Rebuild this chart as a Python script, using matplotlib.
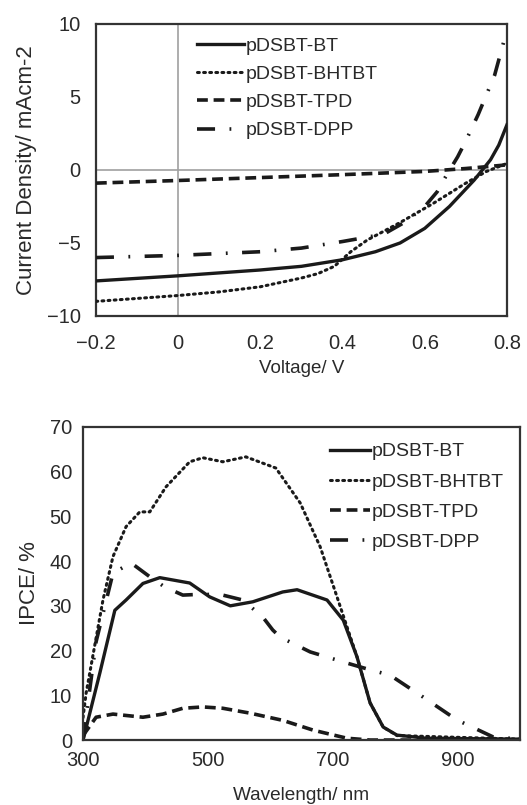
import numpy as np
import matplotlib.pyplot as plt

plt.rcParams['font.family'] = ['Liberation Sans', 'DejaVu Sans']

# J-V curves (top panel)
v_bt = [-0.2, 0.0, 0.1, 0.2, 0.3, 0.4, 0.48, 0.54, 0.6, 0.66, 0.72, 0.76, 0.78, 0.8]
j_bt = [-7.6, -7.25, -7.05, -6.85, -6.6, -6.15, -5.6, -5.0, -4.0, -2.5, -0.7, 0.7, 1.7, 3.1]

v_bhtbt = [-0.2, 0.0, 0.1, 0.2, 0.3, 0.34, 0.38, 0.42, 0.46, 0.5, 0.54, 0.62, 0.7, 0.75, 0.8]
j_bhtbt = [-9.0, -8.6, -8.35, -8.0, -7.4, -7.1, -6.6, -5.6, -4.8, -4.2, -3.6, -2.3, -0.9, -0.1, 0.45]

v_tpd = [-0.2, 0.0, 0.2, 0.4, 0.6, 0.7, 0.8]
j_tpd = [-0.9, -0.72, -0.52, -0.32, -0.1, 0.1, 0.35]

v_dpp = [-0.2, 0.0, 0.2, 0.3, 0.4, 0.5, 0.55, 0.6, 0.63, 0.65, 0.68, 0.7, 0.73, 0.77, 0.8]
j_dpp = [-6.0, -5.85, -5.6, -5.35, -4.9, -4.4, -3.6, -2.5, -1.5, -0.5, 0.9, 2.0, 3.8, 6.5, 9.6]

# IPCE spectra (bottom panel)
wl_bt = [300, 303, 327, 351, 369, 396, 423, 471, 503, 536, 572, 620, 643, 691, 717, 739,
         760, 781, 803, 850, 1000]
ipce_bt = [0, 1.6, 15, 29, 31.3, 35, 36.3, 35.1, 32, 30, 30.9, 33.1, 33.6, 31.3, 26.8, 18.6,
           8.3, 2.9, 1.1, 0.4, 0.2]

wl_bhtbt = [300, 305, 332, 348, 369, 391, 407, 433, 471, 492, 524, 561, 609, 648, 680, 707,
            723, 739, 760, 781, 803, 1000]
ipce_bhtbt = [5, 10.5, 31.3, 41, 47.7, 51, 51, 56.6, 62.2, 63.1, 62.2, 63.3, 60.8, 53, 43.2,
              32, 25.3, 18.6, 8.3, 2.9, 1.0, 0.2]

wl_tpd = [300, 321, 348, 396, 428, 460, 492, 524, 568, 620, 669, 723, 760, 1000]
ipce_tpd = [1, 5.1, 5.8, 5.1, 5.8, 7.1, 7.4, 7.1, 6.0, 4.4, 2.2, 0.4, 0.0, 0.0]

wl_dpp = [300, 321, 348, 377, 407, 431, 460, 492, 524, 556, 588, 604, 616, 664, 723, 760,
          792, 845, 899, 957, 1000]
ipce_dpp = [0, 22, 37.3, 39.6, 36.5, 34.2, 32.4, 32.6, 32.4, 31.3, 27.5, 24.6, 23, 19.7, 17.2,
            15.7, 14.5, 9.6, 4.5, 0.7, 0.2]

labels = ['pDSBT-BT', 'pDSBT-BHTBT', 'pDSBT-TPD', 'pDSBT-DPP']
styles = [
    dict(ls='-', lw=2.4),
    dict(ls=(0, (0.6, 1.4)), lw=2.2, dash_capstyle='round'),
    dict(ls=(0, (3, 1.6)), lw=2.6),
    dict(ls=(0, (5, 4, 0.5, 4)), lw=2.6),
]
ink = '#1a1a1a'
txt = '#2a2a2a'

fig = plt.figure(figsize=(5.27, 8.05), dpi=100)

# --- top: J-V ---
ax1 = fig.add_axes([0.182, 0.6075, 0.780, 0.3627])
ax1.axhline(0, color='#a0a0a0', lw=1.2, zorder=1)
ax1.axvline(0, color='#a0a0a0', lw=1.2, zorder=1)
for (v, j), lab, st in zip([(v_bt, j_bt), (v_bhtbt, j_bhtbt), (v_tpd, j_tpd), (v_dpp, j_dpp)],
                           labels, styles):
    ax1.plot(v, j, color=ink, label=lab, zorder=3, **st)
ax1.set_xlim(-0.2, 0.8)
ax1.set_ylim(-10, 10)
ax1.set_xticks([-0.2, 0, 0.2, 0.4, 0.6, 0.8])
ax1.set_xticklabels(['\u22120.2', '0', '0.2', '0.4', '0.6', '0.8'])
ax1.set_yticks([-10, -5, 0, 5, 10])
ax1.set_yticklabels(['\u221210', '\u22125', '0', '5', '10'])
ax1.tick_params(axis='x', pad=13)
ax1.tick_params(axis='y', pad=11)
ax1.set_xlabel('Voltage/ V', fontsize=13.5, color=txt, labelpad=5)
ax1.set_ylabel('Current Density/ mAcm-2', fontsize=16, color=txt, labelpad=7)
ax1.legend(loc='upper left', bbox_to_anchor=(0.246, 0.954), frameon=False, fontsize=14,
           borderpad=0, borderaxespad=0, handlelength=2.4, handletextpad=0.1,
           labelspacing=0.54, labelcolor=txt)

# --- bottom: IPCE ---
ax2 = fig.add_axes([0.1575, 0.0807, 0.829, 0.389])
for (w, q), lab, st in zip([(wl_bt, ipce_bt), (wl_bhtbt, ipce_bhtbt), (wl_tpd, ipce_tpd),
                            (wl_dpp, ipce_dpp)], labels, styles):
    ax2.plot(w, q, color=ink, label=lab, **st)
ax2.set_xlim(300, 1000)
ax2.set_ylim(0, 70)
ax2.set_xticks([300, 500, 700, 900])
ax2.set_yticks(range(0, 71, 10))
ax2.tick_params(axis='x', pad=8)
ax2.tick_params(axis='y', pad=8)
ax2.set_xlabel('Wavelength/ nm', fontsize=13.7, color=txt, labelpad=12)
ax2.set_ylabel('IPCE/ %', fontsize=16, color=txt, labelpad=7)
ax2.legend(loc='upper left', bbox_to_anchor=(0.565, 0.949), frameon=False, fontsize=14,
           borderpad=0, borderaxespad=0, handlelength=2.05, handletextpad=0.1,
           labelspacing=0.65, labelcolor=txt)

for ax in (ax1, ax2):
    ax.tick_params(length=0, labelsize=14.5, labelcolor=txt)
    for s in ax.spines.values():
        s.set_color('#333333')
        s.set_linewidth(1.6)

fig.savefig('out.png', dpi=100, facecolor='white')
